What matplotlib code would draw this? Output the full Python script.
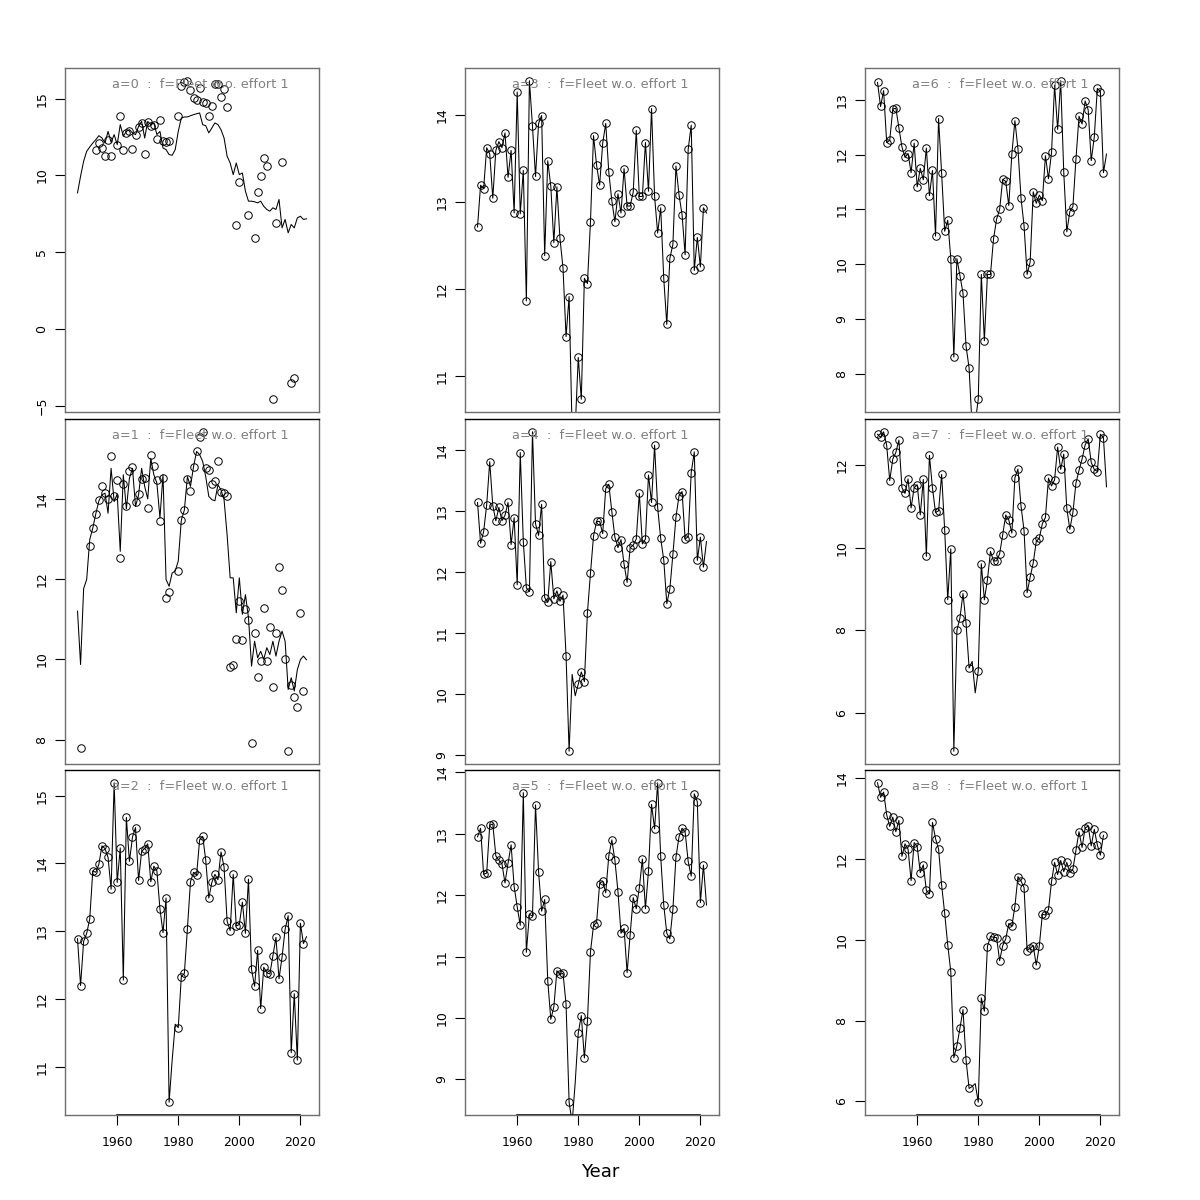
import numpy as np
import matplotlib.pyplot as plt

# years of the model line, observed points stop one year earlier
years = np.arange(1947, 2023)
obs_years = years[:-1]
gap_years = [1978, 1979]   # no observation plotted, only the line

# a=0 and a=1: observed values (points) and fitted values (line)
a0_obs = [np.nan] * 6 + [
    11.68, 12.11, 11.79, 11.25, 12.33, 11.25, np.nan, 11.96, 13.85, 11.64,
    12.77, 12.92, 11.75, 12.61, 13.13, 13.42, 11.42, 13.50, 13.20, 13.31,
    12.38, 13.59, 12.27, 12.18, 12.25,
    np.nan, np.nan,
    13.85, 15.85, 16.06, 16.17, 15.54, 15.04, 14.89, 15.69, 14.76, 14.72,
    13.85, 14.50, 15.95, 15.95, 15.11, 15.63, 14.46,
    np.nan, np.nan, 6.80, 9.58, np.nan, np.nan, 7.45, np.nan, 5.93, 8.95,
    9.95, 11.12, 10.60, np.nan, -4.59, 6.89, np.nan, 10.88, np.nan, np.nan,
    -3.50, -3.22, np.nan, np.nan, np.nan]
a0_fit = [
    8.86, 9.95, 10.92, 11.57, 11.85, 12.11, 12.33, 12.59, 12.44, 12.11,
    12.87, 12.16, 12.66, 12.01, 13.31, 12.55, 12.87, 12.98, 12.77, 12.66,
    13.20, 13.52, 12.44, 13.52, 13.31, 13.42, 12.66, 12.87, 11.79, 11.68,
    11.36, 11.31, 11.68, 12.87,
    13.74, 13.81, 13.81, 13.89, 13.96, 14.02, 14.07, 13.31, 13.24, 12.77,
    13.09, 13.42, 13.31, 12.98, 12.44, 11.25, 10.81, 10.05, 10.81, 10.05,
    10.16, 8.97, 8.32, 8.32, 8.28, 8.21, 8.32, 7.99, 7.78, 7.67,
    7.89, 7.78, 8.43, 6.58, 7.13, 6.26, 6.80, 6.58, 7.23, 7.34,
    7.13, 7.17]

a1_obs = [
    np.nan, 7.78, np.nan, np.nan, 12.83, 13.28, 13.63, 13.98, 14.33, 14.14,
    13.99, 15.07, 14.08, 14.48, 12.52, 14.38, 13.83, 14.70, 14.78, 13.93,
    14.12, 14.50, 14.53, 13.78, 15.09, 14.82, 14.46, 13.44, 14.51, 11.54,
    11.67,
    np.nan, np.nan,
    12.20, 13.47, 13.72, 14.50, 14.20, 14.79, 15.18, 15.53, 15.67, 14.76,
    14.71, 14.36, 14.44, 14.95, 14.18, 14.14, 14.08, 9.82, 9.86, 10.51,
    11.45, 10.48, 11.26, 10.99, 7.91, 10.66, 9.57, 9.95, 11.27, 9.95,
    10.80, 9.31, 10.66, 12.31, 11.73, 10.00, 7.71, 9.36, 9.06, 8.81,
    11.16, 9.22]
a1_fit = [
    11.20, 9.87, 11.76, 11.99, 12.98, 13.27, 13.63, 13.95, 14.10, 14.14,
    13.64, 14.76, 13.93, 14.12, 12.69, 14.60, 13.75, 14.51, 14.76, 13.81,
    14.10, 14.76, 14.31, 14.00, 15.01, 14.60, 14.39, 13.52, 14.60, 11.99,
    11.82, 12.15, 12.20, 12.45,
    13.47, 13.72, 14.55, 14.31, 14.80, 15.18, 15.10, 14.93, 14.55, 14.06,
    13.98, 13.95, 14.35, 14.22, 13.98, 13.10, 12.03, 12.03, 11.16, 12.03,
    11.12, 11.61, 11.04, 9.83, 10.45, 10.04, 10.20, 10.00, 10.29, 10.12,
    10.45, 10.08, 10.45, 10.70, 10.45, 9.25, 9.54, 9.21, 9.74, 9.99,
    10.08, 9.99]

# a=2 .. a=8: line through the points (1947-2022)
a2 = [12.89, 12.20, 12.85, 12.97, 13.18, 13.89, 13.87, 13.99, 14.26, 14.22,
      14.09, 13.62, 15.19, 13.72, 14.23, 12.28, 14.68, 14.03, 14.39, 14.53,
      13.75, 14.18, 14.22, 14.29, 13.73, 13.96, 13.89, 13.33, 12.98, 13.49,
      10.48, 11.10, 11.63,
      11.58, 12.33, 12.38, 13.04, 13.73, 13.87, 13.83, 14.35, 14.40, 14.05,
      13.49, 13.72, 13.84, 13.76, 14.17, 13.95, 13.15, 13.01, 13.84, 13.08,
      13.10, 13.43, 12.97, 13.77, 12.44, 12.19, 12.72, 11.86, 12.47, 12.39,
      12.37, 12.64, 12.91, 12.30, 12.62, 13.03, 13.23, 11.21, 12.08, 11.10,
      13.12, 12.82, 12.92]
a3 = [12.71, 13.19, 13.15, 13.62, 13.55, 13.04, 13.59, 13.69, 13.62, 13.79,
      13.28, 13.59, 12.87, 14.26, 12.86, 13.36, 11.86, 14.39, 13.87, 13.29,
      13.90, 13.99, 12.38, 13.47, 13.18, 12.53, 13.17, 12.58, 12.24, 11.45,
      11.91, 10.35, 10.40,
      11.21, 10.73, 12.12, 12.06, 12.77, 13.76, 13.42, 13.19, 13.67, 13.90,
      13.34, 13.01, 12.77, 13.09, 12.87, 13.38, 12.95, 12.95, 13.11, 13.82,
      13.06, 13.06, 13.68, 13.12, 14.07, 13.06, 12.64, 12.93, 12.12, 11.59,
      12.35, 12.51, 13.41, 13.08, 12.85, 12.39, 13.60, 13.88, 12.21, 12.59,
      12.25, 12.93, 12.87]
a4 = [13.14, 12.47, 12.66, 13.10, 13.81, 13.09, 12.84, 13.06, 12.84, 12.93,
      13.14, 12.45, 12.89, 11.79, 13.96, 12.50, 11.74, 11.68, 14.30, 12.79,
      12.60, 13.11, 11.58, 11.50, 12.17, 11.56, 11.69, 11.52, 11.62, 10.63,
      9.06, 10.32, 9.97,
      10.16, 10.36, 10.20, 11.33, 11.98, 12.59, 12.83, 12.83, 12.63, 13.37,
      13.44, 12.99, 12.57, 12.40, 12.53, 12.13, 11.83, 12.40, 12.44, 12.54,
      13.29, 12.46, 12.54, 13.59, 13.14, 14.08, 13.06, 12.55, 12.20, 11.48,
      11.72, 12.29, 12.90, 13.25, 13.32, 12.54, 12.58, 13.63, 13.97, 12.19,
      12.57, 12.08, 12.50]
a5 = [12.95, 13.09, 12.34, 12.36, 13.14, 13.16, 12.64, 12.57, 12.51, 12.20,
      12.52, 12.82, 12.14, 11.81, 11.51, 13.67, 11.07, 11.69, 11.66, 13.47,
      12.38, 11.74, 11.93, 10.61, 9.98, 10.18, 10.77, 10.71, 10.73, 10.23,
      8.63, 8.30, 8.95,
      9.76, 10.04, 9.35, 9.95, 11.08, 11.51, 11.55, 12.19, 12.23, 12.04,
      12.64, 12.90, 12.57, 12.06, 11.38, 11.46, 10.74, 11.36, 11.96, 11.78,
      12.12, 12.59, 11.78, 12.39, 13.48, 13.08, 13.83, 12.63, 11.84, 11.38,
      11.29, 11.77, 12.62, 12.95, 13.09, 13.03, 12.55, 12.31, 13.65, 13.52,
      11.88, 12.49, 11.84]
a6 = [13.32, 12.88, 13.17, 12.22, 12.26, 12.83, 12.85, 12.49, 12.14, 11.95,
      12.02, 11.67, 12.21, 11.41, 11.75, 11.54, 12.12, 11.25, 11.71, 10.51,
      12.66, 11.66, 10.60, 10.80, 10.10, 8.30, 10.10, 9.79, 9.47, 8.50,
      8.10, 7.00, 7.10,
      7.53, 9.81, 8.60, 9.81, 9.81, 10.46, 10.82, 11.00, 11.55, 11.51,
      11.07, 12.01, 12.62, 12.11, 11.21, 10.70, 9.81, 10.04, 11.32, 11.11,
      11.26, 11.16, 11.98, 11.56, 12.04, 13.27, 12.46, 13.35, 11.68, 10.59,
      10.96, 11.05, 11.92, 12.70, 12.56, 12.98, 12.82, 11.89, 12.32, 13.21,
      13.15, 11.67, 12.01]
a7 = [12.74, 12.67, 12.80, 12.47, 11.62, 12.14, 12.30, 12.60, 11.45, 11.31,
      11.66, 10.96, 11.45, 11.52, 10.79, 11.65, 9.79, 12.23, 11.44, 10.85,
      10.89, 11.77, 10.43, 8.74, 9.97, 5.08, 8.00, 8.30, 8.89, 8.17,
      7.09, 7.25, 6.49,
      7.03, 9.61, 8.74, 9.22, 9.91, 9.68, 9.68, 9.85, 10.31, 10.79,
      10.67, 10.35, 11.69, 11.90, 11.01, 10.41, 8.91, 9.29, 9.63, 10.15,
      10.23, 10.58, 10.73, 11.68, 11.49, 11.64, 12.43, 11.89, 12.26, 10.95,
      10.44, 10.85, 11.56, 11.87, 12.14, 12.48, 12.63, 12.06, 11.89, 11.84,
      12.74, 12.66, 11.47]
a8 = [13.88, 13.52, 13.65, 13.09, 12.80, 13.03, 12.67, 12.95, 12.06, 12.37,
      12.24, 11.46, 12.40, 12.30, 11.66, 11.85, 11.22, 11.13, 12.90, 12.50,
      12.24, 11.35, 10.65, 9.87, 9.21, 7.08, 7.38, 7.81, 8.27, 7.02,
      6.32, 6.37, 6.44,
      5.98, 8.56, 8.23, 9.83, 10.08, 10.06, 10.05, 9.48, 9.85, 10.02,
      10.40, 10.34, 10.82, 11.56, 11.45, 11.29, 9.73, 9.79, 9.85, 9.37,
      9.85, 10.63, 10.61, 10.74, 11.44, 11.91, 11.61, 11.96, 11.68, 11.91,
      11.66, 11.74, 12.21, 12.67, 12.28, 12.76, 12.81, 12.32, 12.73, 12.34,
      12.09, 12.58, np.nan]

y_ticks = {
    0: [-5, 0, 5, 10, 15], 1: [8, 10, 12, 14], 2: [11, 12, 13, 14, 15],
    3: [11, 12, 13, 14], 4: [9, 10, 11, 12, 13, 14], 5: [9, 10, 11, 12, 13, 14],
    6: [8, 9, 10, 11, 12, 13], 7: [6, 8, 10, 12], 8: [6, 8, 10, 12, 14],
}


def through_points(line):
    """Punkty = linia bez lat z luka i bez ostatniego roku."""
    pts = np.array(line[:-1], dtype=float)
    pts[np.isin(obs_years, gap_years)] = np.nan
    return pts


panels = [(a0_fit, np.array(a0_obs, dtype=float)),
          (a1_fit, np.array(a1_obs, dtype=float))]
for line in [a2, a3, a4, a5, a6, a7, a8]:
    panels.append((line, through_points(line)))

fig = plt.figure(figsize=(12, 12), dpi=100)
lefts = [65, 465, 865]
tops = [68, 419, 770]
bottoms = [412, 764, 1115]
frame_col = '#6e6e6e'

for k, (line, pts) in enumerate(panels):
    col, row = divmod(k, 3)
    ax = fig.add_axes([lefts[col] / 1200, 1 - bottoms[row] / 1200,
                       254 / 1200, (bottoms[row] - tops[row]) / 1200])

    # ylim like R: range of the points plus 4 %
    lo, hi = np.nanmin(pts), np.nanmax(pts)
    pad = 0.04 * (hi - lo)
    ax.set_ylim(lo - pad, hi + pad)
    ax.set_xlim(1942.9, 2026.1)

    ax.plot(years, line, color='black', lw=0.75)
    ax.plot(obs_years, pts, 'o', mfc='none', mec='black', ms=5.4, mew=0.7)

    ax.text(0.533, 0.953, 'a=%d  :  f=Fleet w.o. effort 1' % k,
            transform=ax.transAxes, ha='center', va='center',
            fontsize=9.3, color='grey')

    for s in ax.spines.values():
        s.set_color(frame_col)
        s.set_linewidth(1.0)
    if row > 0:
        ax.spines['top'].set_color('black')

    ax.set_yticks(y_ticks[k])
    ax.tick_params(axis='y', direction='out', length=7, width=0.8,
                   labelsize=9, pad=5, labelrotation=90)
    for lbl in ax.get_yticklabels():
        lbl.set_va('center')

    if row == 2:
        ax.set_xticks([1960, 1980, 2000, 2020])
        ax.tick_params(axis='x', direction='out', length=7, width=0.8,
                       labelsize=9, pad=8)
        ax.plot([1960, 2020], [0, 0], color='black', lw=1.2,
                transform=ax.get_xaxis_transform(), clip_on=False)
    else:
        ax.set_xticks([])

fig.text(0.5, 1 - 1172 / 1200, 'Year', ha='center', va='center', fontsize=13)

fig.savefig('out.png', dpi=100)
